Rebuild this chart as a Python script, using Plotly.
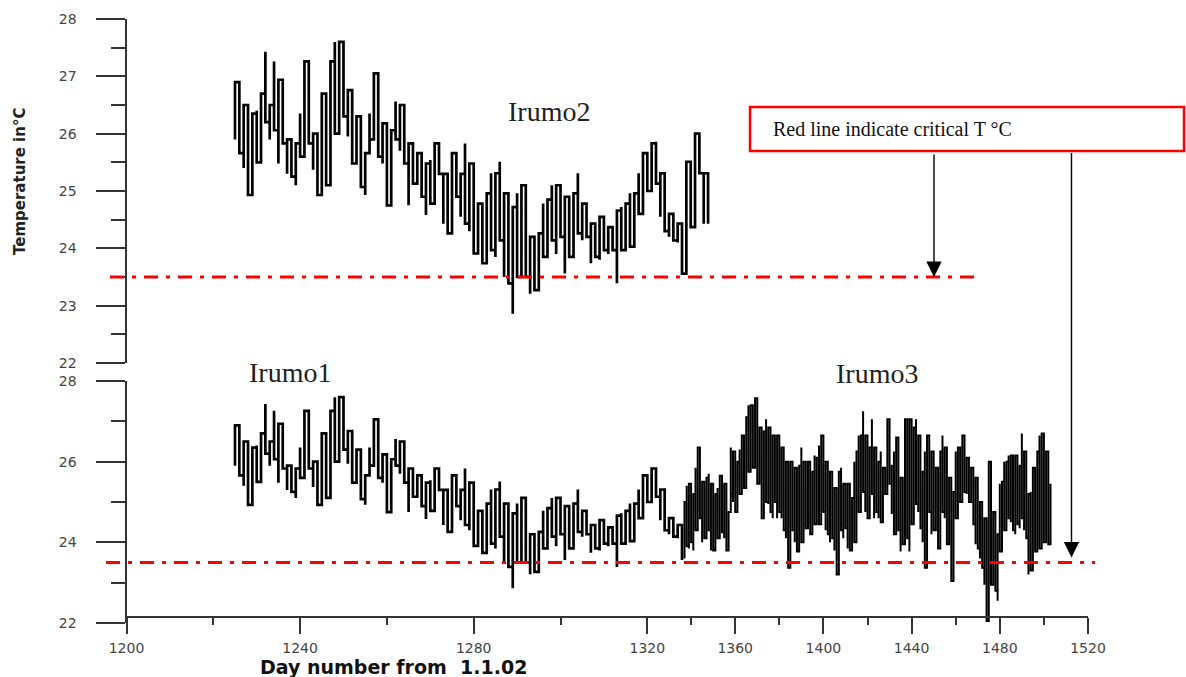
import plotly.graph_objects as go

# ---------------------------------------------------------------------------
# Daily temperature range (max / min, degC) at the Irumo loggers
# ---------------------------------------------------------------------------
irumo2_first_day = 1225
irumo2_max = [
    26.9, 26.7, 26.5, 26.2, 26.35, 26.4, 26.7, 27.43, 26.5, 27.26,
    26.94, 26.88, 25.9, 25.6, 25.83, 26.35, 27.26, 26.5, 26.0, 25.48,
    26.7, 26.06, 27.26, 27.6, 27.6, 27.6, 26.76, 26.7, 26.3, 25.9,
    25.66, 26.35, 27.05, 26.35, 26.18, 25.83, 26.06, 26.56, 26.5, 26.35,
    25.83, 25.83, 25.66, 25.54, 25.48, 25.54, 25.83, 25.66, 25.3, 25.25,
    25.66, 25.66, 25.3, 25.83, 25.48, 24.87, 24.78, 24.78, 24.96, 25.31,
    25.31, 25.51, 24.96, 24.85, 24.72, 24.96, 25.1, 24.26, 24.2, 24.14,
    24.26, 24.78, 24.85, 25.1, 25.1, 24.96, 24.9, 24.85, 24.96, 25.31,
    24.78, 24.72, 24.43, 24.43, 24.55, 24.43, 24.37, 24.3, 24.66, 24.72,
    24.78, 24.96, 24.96, 25.31, 25.66, 25.66, 25.83, 25.86, 25.31, 25.0,
    24.6, 24.55, 24.43, 24.43, 25.51, 25.51, 26.0, 26.0, 25.31, 24.85,
]
irumo2_min = [
    25.9, 25.66, 25.4, 24.93, 25.45, 25.5, 25.83, 26.2, 25.9, 26.06,
    25.48, 25.83, 25.3, 25.25, 25.1, 25.6, 26.06, 25.83, 25.37, 24.93,
    25.83, 25.1, 26.0, 26.0, 26.35, 26.3, 25.95, 25.48, 25.6, 25.07,
    24.93, 25.9, 26.06, 25.6, 25.48, 24.75, 25.25, 25.9, 25.7, 25.48,
    24.75, 25.13, 25.13, 24.9, 24.58, 24.78, 25.0, 25.3, 24.43, 24.26,
    24.72, 24.9, 24.55, 24.43, 24.3, 23.91, 24.0, 23.74, 23.85, 23.97,
    23.85, 24.14, 23.5, 23.39, 22.86, 23.5, 23.74, 23.5, 23.21, 23.27,
    23.39, 23.85, 23.97, 24.14, 23.9, 24.2, 23.56, 23.85, 24.43, 24.26,
    24.14, 24.2, 23.74, 23.85, 23.8, 23.97, 23.9, 23.97, 23.39, 23.97,
    24.03, 24.03, 24.2, 24.6, 24.96, 25.0, 25.07, 25.13, 24.55, 24.3,
    24.2, 24.14, 24.1, 23.56, 24.43, 24.37, 24.85, 25.31, 24.43, 24.43,
]

# Irumo1 shares the same record, shown up to day 1328 in the lower panel
irumo1_first_day = 1225
irumo1_last_day = 1328

irumo3_first_day = 1337
irumo3_max = [
    25.0, 25.4, 25.45, 25.3, 25.2, 25.85, 26.35, 26.2, 25.5, 25.45,
    25.6, 25.7, 25.45, 25.25, 25.2, 25.35, 25.65, 25.6, 25.45, 24.6,
    24.75, 26.35, 26.25, 26.15, 26.0, 26.3, 26.65, 26.6, 27.1, 27.4,
    27.4, 27.25, 27.57, 27.08, 26.85, 26.35, 26.75, 27.05, 26.85, 26.75,
    26.65, 26.5, 26.65, 26.6, 26.35, 26.0, 26.0, 25.85, 26.0, 25.75,
    25.85, 25.6, 25.9, 26.35, 26.0, 25.85, 26.0, 25.9, 25.75, 26.15,
    26.1, 26.4, 26.65, 26.65, 26.0, 25.85, 25.75, 25.6, 25.35, 25.25,
    25.75, 25.85, 25.45, 25.25, 25.45,
    25.0, 25.1, 26.0, 26.25, 26.65, 26.65, 27.25, 26.65, 26.6, 26.35,
    27.05, 26.35, 26.25, 26.0, 26.25, 25.85, 25.85, 27.05, 27.05, 25.9,
    26.25, 26.6, 25.9, 25.6, 25.45, 27.05, 27.05, 27.05, 27.05, 26.85,
    27.05, 26.65, 26.1, 25.75, 26.25, 26.65, 26.1, 26.25, 25.75, 25.85,
    25.6, 26.25, 26.65, 26.35, 25.75, 25.6, 25.45, 25.25, 26.25, 26.35,
    26.15, 26.65, 26.25, 26.1, 25.9, 25.85, 25.75, 25.6, 25.45, 25.0,
    24.75, 24.6, 24.45, 26.0, 25.85, 24.75, 24.6, 24.2, 25.45, 25.5,
    26.0, 26.0, 26.15, 26.15, 26.1, 26.15, 26.0, 25.9, 26.7, 26.25,
    25.45, 25.2, 25.25, 25.85, 25.85, 26.25, 26.65, 26.7, 26.65, 26.25,
    26.15, 25.45,
]
irumo3_min = [
    23.6, 23.9, 23.85, 24.0, 23.8, 24.3, 24.75, 24.6, 24.0, 24.1,
    24.2, 24.3, 23.8, 23.8, 23.95, 24.1, 24.35, 24.25, 24.1, 23.8,
    23.77, 25.2, 25.0, 24.75, 24.95, 25.2, 25.45, 25.35, 25.45, 25.75,
    25.9, 25.85, 26.0, 25.45, 25.45, 24.6, 25.2, 25.0, 24.95, 24.75,
    24.6, 25.0, 24.6, 24.75, 24.6, 24.3, 24.1, 23.37, 24.1, 24.3,
    24.0, 23.77, 24.1, 24.0, 24.45, 24.35, 24.45, 24.2, 24.3, 24.45,
    24.6, 24.45, 24.6, 24.75, 24.3, 24.2, 24.0, 24.1, 23.8, 23.2,
    24.2, 24.3, 24.1, 24.35, 23.85,
    23.8, 23.8, 24.0, 24.35, 24.75, 24.95, 25.25, 24.75, 24.6, 24.75,
    25.2, 24.6, 24.75, 24.6, 24.5, 24.6, 25.2, 25.2, 25.45, 24.7,
    24.2, 24.45, 24.3, 23.77, 23.95, 24.45, 24.1, 23.77, 24.45, 24.75,
    24.95, 24.75, 24.35, 24.0, 23.37, 24.45, 24.75, 24.2, 24.3, 24.45,
    23.85, 24.1, 24.75, 24.6, 23.95, 24.0, 23.04, 24.2, 24.6, 25.2,
    25.0, 25.2, 25.25, 25.2, 25.0, 25.0, 24.45, 23.95, 23.85, 23.6,
    23.37, 22.95, 22.05, 22.8, 22.95, 23.3, 22.8, 22.55, 23.77, 24.1,
    24.3, 24.45, 24.6, 24.5, 24.3, 24.2, 24.45, 24.35, 24.6, 24.3,
    24.1, 23.2, 23.3, 23.95, 23.77, 23.95, 23.85, 23.95, 24.0, 24.0,
    23.95, 24.0,
]

critical_temp = 23.5

upper_y_ticks = [22, 23, 24, 25, 26, 27, 28]
upper_y_minor = [22.5, 23.5, 24.5, 25.5, 26.5, 27.5]
lower_y_ticks = [22, 24, 26, 28]
lower_y_minor = [23, 25, 27]
left_x_ticks = [1200, 1240, 1280, 1320]
left_x_minor = [1220, 1260, 1300]
right_x_ticks = [1360, 1400, 1440, 1480, 1520]
right_x_minor = [1340, 1380, 1420, 1460, 1500]

# ---------------------------------------------------------------------------
W, H = 1186, 677


def fx(px):
    return px / W


def fy(py):
    return 1 - py / H


def range_path(first_day, hi, lo, last_day=None):
    """Vertical stroke per day from min to max, stepped day to day."""
    xs, ys = [], []
    for i, (h, l) in enumerate(zip(hi, lo)):
        d = first_day + i
        if last_day is not None and d > last_day:
            break
        xs += [d, d]
        ys += [l, h] if i % 2 == 0 else [h, l]
    return xs, ys


wide_line = dict(color="black", width=2.7, shape="hv")
dense_line = dict(color="black", width=2.0, shape="hv")

fig = go.Figure()

x2, y2 = range_path(irumo2_first_day, irumo2_max, irumo2_min)
fig.add_trace(go.Scatter(x=x2, y=y2, mode="lines", line=wide_line,
                         xaxis="x", yaxis="y", name="Irumo2"))

x1, y1 = range_path(irumo1_first_day, irumo2_max, irumo2_min, irumo1_last_day)
fig.add_trace(go.Scatter(x=x1, y=y1, mode="lines", line=wide_line,
                         xaxis="x2", yaxis="y2", name="Irumo1"))

x3, y3 = range_path(irumo3_first_day, irumo3_max, irumo3_min)
fig.add_trace(go.Scatter(x=x3, y=y3, mode="lines", line=dense_line,
                         xaxis="x3", yaxis="y2", name="Irumo3"))

axis_col = "#333333"
tick_font = dict(family="DejaVu Sans", size=14, color="#444444")

y_common = dict(
    range=[22, 28], showline=True, linecolor=axis_col, linewidth=2,
    ticks="outside", ticklen=29, tickwidth=2, tickcolor=axis_col,
    showgrid=False, zeroline=False, tickfont=tick_font,
    ticklabelstandoff=16, automargin=False,
)
x_common = dict(
    showline=True, linecolor=axis_col, linewidth=2,
    ticks="outside", ticklen=16, tickwidth=2, tickcolor=axis_col,
    showgrid=False, zeroline=False, anchor="free", position=fy(617),
    tickfont=dict(family="DejaVu Sans", size=14, color="#444444"),
    ticklabelstandoff=2, automargin=False,
)

upper_dom = [fx(126.5), fx(126.5 + 140 * 4.34)]

fig.update_layout(
    width=W, height=H, autosize=False,
    margin=dict(l=0, r=0, t=0, b=0, pad=0, autoexpand=False),
    paper_bgcolor="white", plot_bgcolor="rgba(0,0,0,0)",
    showlegend=False,
    xaxis=dict(domain=upper_dom, range=[1200, 1340], visible=False,
               anchor="y"),
    yaxis=dict(domain=[fy(363), fy(19)], anchor="x",
               tickvals=upper_y_ticks,
               minor=dict(tickvals=upper_y_minor, ticklen=14, tickwidth=2,
                          tickcolor=axis_col, ticks="outside"),
               **y_common),
    xaxis2=dict(domain=upper_dom, range=[1200, 1340],
                tickvals=left_x_ticks,
                minor=dict(tickvals=left_x_minor, ticklen=7, tickwidth=2,
                           tickcolor=axis_col, ticks="outside"),
                **x_common),
    yaxis2=dict(domain=[fy(623), fy(381)], anchor="x2",
                tickvals=lower_y_ticks,
                minor=dict(tickvals=lower_y_minor, ticklen=14, tickwidth=2,
                           tickcolor=axis_col, ticks="outside"),
                **y_common),
    xaxis3=dict(domain=[fx(647), fx(1088)], range=[1320, 1520],
                tickvals=right_x_ticks,
                minor=dict(tickvals=right_x_minor, ticklen=7, tickwidth=2,
                           tickcolor=axis_col, ticks="outside"),
                **x_common),
)

# Critical temperature lines
red_dash = dict(color="#ff0000", width=3, dash="14px,8px,4px,8px")
fig.add_shape(type="line", xref="paper", yref="y", x0=fx(110), x1=fx(975),
              y0=critical_temp, y1=critical_temp, line=red_dash)
fig.add_shape(type="line", xref="paper", yref="y2", x0=fx(106), x1=fx(1095),
              y0=critical_temp, y1=critical_temp, line=red_dash)

# Note box
fig.add_shape(type="rect", xref="paper", yref="paper",
              x0=fx(750), x1=fx(1184), y0=fy(151), y1=fy(107),
              line=dict(color="#ff0000", width=2.5), fillcolor="white")
fig.add_annotation(x=fx(771), y=fy(129), xref="paper", yref="paper",
                   text="Red line indicate critical T \u00b0C", showarrow=False,
                   xanchor="left", yanchor="middle",
                   font=dict(family="Liberation Serif", size=20, color="#111111"))

# Arrows from the note box to each critical line
fig.add_annotation(x=fx(934), y=critical_temp, xref="paper", yref="y",
                   ax=0, ay=-124, text="", showarrow=True,
                   arrowhead=2, arrowsize=2.2, arrowwidth=1.4,
                   arrowcolor="black", standoff=0)
fig.add_annotation(x=fx(1071.5), y=critical_temp, xref="paper", yref="y2",
                   yshift=5, ax=0, ay=-406, text="", showarrow=True,
                   arrowhead=2, arrowsize=2.2, arrowwidth=1.4,
                   arrowcolor="black", standoff=0)

# Site labels
site_font = dict(family="Liberation Serif", size=28, color="#222222")
for label, px, py in [("Irumo2", 549, 111), ("Irumo1", 290, 372),
                      ("Irumo3", 877, 373)]:
    fig.add_annotation(x=fx(px), y=fy(py), xref="paper", yref="paper",
                       text=label, showarrow=False, font=site_font,
                       xanchor="center", yanchor="middle")

# Axis titles
fig.add_annotation(x=fx(20), y=fy(182), xref="paper", yref="paper",
                   text="Temperature in\u00b0C", textangle=-90, showarrow=False,
                   font=dict(family="DejaVu Sans", size=15, color="#222222",
                             weight="bold"),
                   xanchor="center", yanchor="middle")
fig.add_annotation(x=fx(393), y=fy(667), xref="paper", yref="paper",
                   text="Day number from  1.1.02", showarrow=False,
                   font=dict(family="DejaVu Sans", size=19, color="#111111",
                             weight="bold"),
                   xanchor="center", yanchor="middle", borderpad=0)

fig.write_html(
    "out.html",
    post_script="document.body.style.margin='0';"
                "document.body.style.overflow='hidden';",
)
